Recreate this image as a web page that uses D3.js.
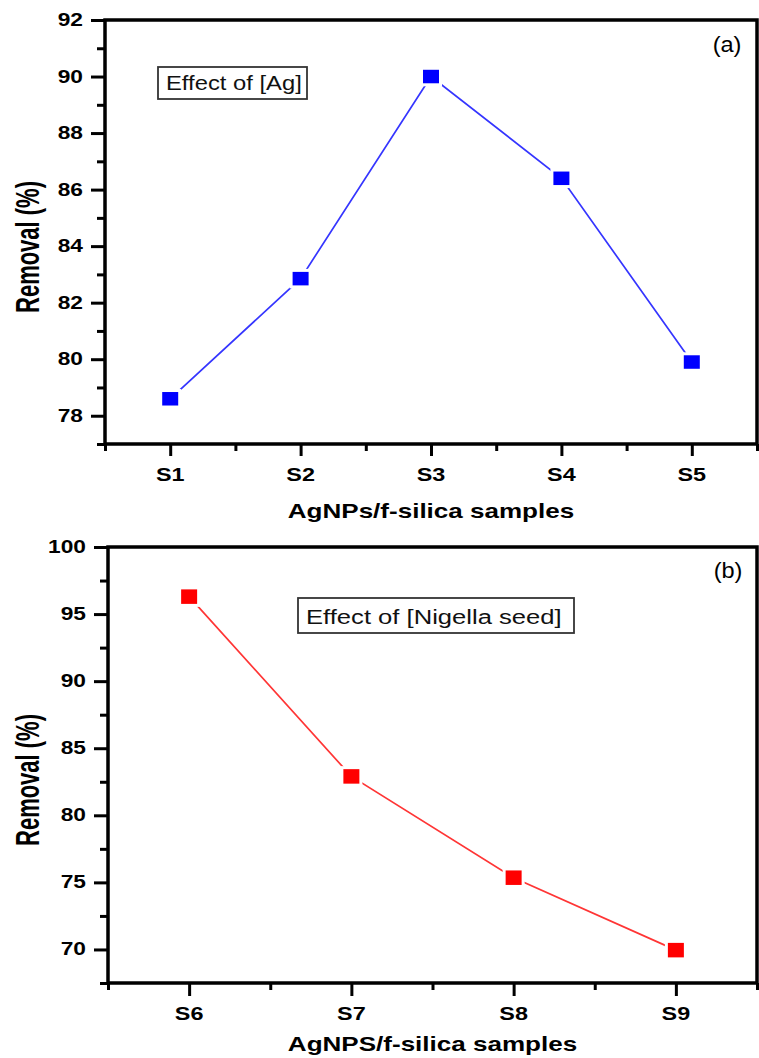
<!DOCTYPE html>
<html><head><meta charset="utf-8">
<script src="https://cdn.jsdelivr.net/npm/d3@7"></script>
<style>body{margin:0;background:#fff} svg{display:block}</style>
</head><body>
<svg id="c" width="759" height="1058"></svg>
<script>
// ---- data ----
const categoriesA = ["S1", "S2", "S3", "S4", "S5"];
const removalA = [78.6, 82.85, 90.0, 86.4, 79.9];
const yTicksA = [78, 80, 82, 84, 86, 88, 90, 92];
const yMinorA = [77, 79, 81, 83, 85, 87, 89, 91];

const categoriesB = ["S6", "S7", "S8", "S9"];
const removalB = [96.3, 82.9, 75.35, 69.95];
const yTicksB = [70, 75, 80, 85, 90, 95, 100];
const yMinorB = [67.5, 72.5, 77.5, 82.5, 87.5, 92.5, 97.5];

const xTitleA = "AgNPs/f-silica samples";
const xTitleB = "AgNPS/f-silica samples";
const yTitle = "Removal (%)";
const noteA = "Effect of [Ag]";
const noteB = "Effect of [Nigella seed]";
const tagA = "(a)";
const tagB = "(b)";

const svg = d3.select("#c");
const SX = 1.3; // horizontal stretch of the original figure

function panel(cfg) {
  const g = svg.append("g");
  const n = cfg.cats.length;
  const x = d3.scaleLinear().domain([0.5, n + 0.5]).range([cfg.left, cfg.right]);
  const y = d3.scaleLinear().domain(cfg.yDomain).range([cfg.bottom, cfg.top]);

  const yMaj = d3.axisLeft(y).tickValues(cfg.yTicks).tickSize(14).tickFormat("");
  const yMin = d3.axisLeft(y).tickValues(cfg.yMinor).tickSize(8).tickFormat("");
  [yMaj, yMin].forEach(ax => {
    const a = g.append("g").attr("transform", `translate(${cfg.left},0)`).call(ax);
    a.select(".domain").remove();
    a.selectAll("line").attr("stroke", "#000").attr("stroke-width", 3);
  });
  const xMajVals = d3.range(1, n + 1);
  const xMinVals = d3.range(0, n + 1).map(i => i + 0.5);
  const xMaj = d3.axisBottom(x).tickValues(xMajVals).tickSize(cfg.xTick).tickFormat("");
  const xMin = d3.axisBottom(x).tickValues(xMinVals).tickSize(7).tickFormat("");
  [xMaj, xMin].forEach(ax => {
    const a = g.append("g").attr("transform", `translate(0,${cfg.bottom})`).call(ax);
    a.select(".domain").remove();
    a.selectAll("line").attr("stroke", "#000").attr("stroke-width", 3);
  });

  g.append("rect").attr("x", cfg.left).attr("y", cfg.top)
    .attr("width", cfg.right - cfg.left).attr("height", cfg.bottom - cfg.top)
    .attr("fill", "none").attr("stroke", "#000").attr("stroke-width", 3.5);

  g.selectAll(".yl").data(cfg.yTicks).enter().append("text")
    .attr("transform", d => `translate(${cfg.left - 22},${y(d) + 6}) scale(${SX},1)`)
    .attr("text-anchor", "end")
    .attr("font-family", "Liberation Sans, Arial, sans-serif")
    .attr("font-weight", "bold").attr("font-size", 17.5)
    .text(d => d);

  g.selectAll(".xl").data(cfg.cats).enter().append("text")
    .attr("transform", (d, i) => `translate(${x(i + 1)},${cfg.bottom + 37}) scale(${SX},1)`)
    .attr("text-anchor", "middle")
    .attr("font-family", "Liberation Sans, Arial, sans-serif")
    .attr("font-weight", "bold").attr("font-size", 18)
    .text(d => d);

  g.append("text")
    .attr("transform", `translate(${(cfg.left + cfg.right) / 2},${cfg.xTitleY}) scale(1.27,1)`)
    .attr("text-anchor", "middle")
    .attr("font-family", "Liberation Sans, Arial, sans-serif")
    .attr("font-weight", "bold").attr("font-size", 20.5)
    .text(cfg.xTitle);
  g.append("text")
    .attr("transform", `translate(39,${cfg.yTitleY}) scale(1.5,1) rotate(-90)`)
    .attr("text-anchor", "middle")
    .attr("font-family", "Liberation Sans, Arial, sans-serif")
    .attr("font-weight", "bold").attr("font-size", 22)
    .text(yTitle);

  g.append("text")
    .attr("transform", `translate(${cfg.box[0] + 8},${cfg.noteBase}) scale(1.22,1)`)
    .attr("font-family", "Liberation Sans, Arial, sans-serif")
    .attr("font-size", cfg.noteSize).attr("fill", "#111")
    .text(cfg.note);
  g.append("rect").attr("x", cfg.box[0]).attr("y", cfg.box[1])
    .attr("width", cfg.box[2]).attr("height", cfg.box[3])
    .attr("fill", "none").attr("stroke", "#333").attr("stroke-width", 1.8);

  g.append("text")
    .attr("transform", `translate(${cfg.tag[0]},${cfg.tag[1]}) scale(1.07,1)`)
    .attr("text-anchor", "middle")
    .attr("font-family", "Liberation Sans, Arial, sans-serif")
    .attr("font-size", 22)
    .text(cfg.tagText);

  const pts = cfg.vals.map((v, i) => [x(i + 1), y(v)]);
  g.append("path").attr("d", d3.line()(pts))
    .attr("fill", "none").attr("stroke", cfg.lineColor).attr("stroke-width", 1.7);
  g.selectAll(".m").data(cfg.vals).enter().append("rect")
    .attr("x", (d, i) => x(i + 1) - cfg.mw / 2 - 1.5)
    .attr("y", d => y(d) - cfg.mh / 2 - 1.5)
    .attr("width", cfg.mw + 3).attr("height", cfg.mh + 3)
    .attr("fill", cfg.markColor).attr("stroke", "#fff").attr("stroke-width", 3);
}

panel({
  cats: categoriesA, vals: removalA, yTicks: yTicksA, yMinor: yMinorA,
  yDomain: [77, 92], left: 105, right: 757, top: 20, bottom: 444, xTick: 12,
  xTitle: xTitleA, xTitleY: 518, yTitleY: 247,
  note: noteA, noteSize: 19.5, box: [158, 67, 149, 32], noteBase: 90,
  tag: [727, 52], tagText: tagA,
  lineColor: "#3535ff", markColor: "#0000ff", mw: 16, mh: 13.5
});
panel({
  cats: categoriesB, vals: removalB, yTicks: yTicksB, yMinor: yMinorB,
  yDomain: [67.5, 100], left: 108, right: 757, top: 547, bottom: 983, xTick: 13,
  xTitle: xTitleB, xTitleY: 1051, yTitleY: 780,
  note: noteB, noteSize: 21, box: [298, 598, 276, 35], noteBase: 623.5,
  tag: [728, 578], tagText: tagB,
  lineColor: "#ff3535", markColor: "#ff0000", mw: 16, mh: 14.5
});
</script>
</body></html>
